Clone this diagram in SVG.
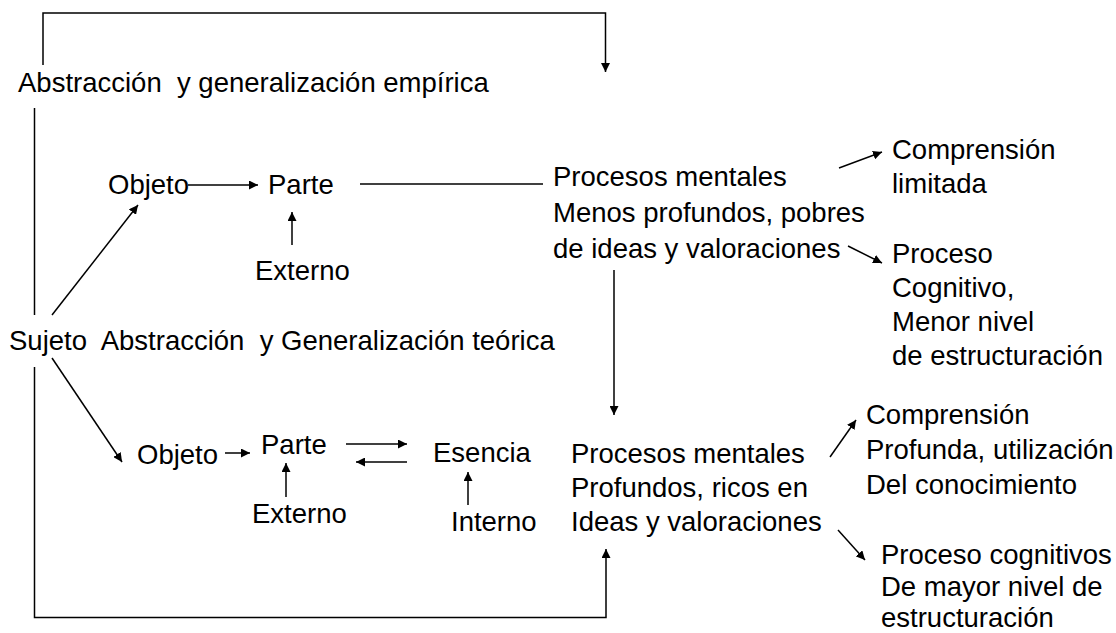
<svg xmlns="http://www.w3.org/2000/svg" width="1116" height="633" viewBox="0 0 1116 633">
<defs>
<marker id="ah" viewBox="0 0 10 10" refX="10" refY="5" markerWidth="9" markerHeight="9" orient="auto" markerUnits="userSpaceOnUse"><path d="M0,0 L10,5 L0,10 z" fill="#000"/></marker>
</defs>
<style>
text{font-family:"Liberation Sans",Arial,sans-serif;font-size:27.5px;fill:#000;white-space:pre}
.c{stroke:#000;stroke-width:1.5;fill:none}
.a{marker-end:url(#ah)}
</style>
<rect width="1116" height="633" fill="#fff"/>
<g id="connectors">
<path class="c a" d="M43,65 V13 H605.5 V72"/>
<path class="c" d="M34.5,108 V315"/>
<path class="c a" d="M34.5,367 V617.5 H606 V549"/>
<path class="c a" d="M188,185 H258"/>
<path class="c a" d="M292,245 V212"/>
<path class="c" d="M360,184 H543"/>
<path class="c a" d="M52,315 L138,205"/>
<path class="c a" d="M52,358 L122,462"/>
<path class="c a" d="M225,453 H250"/>
<path class="c a" d="M286,497 V463"/>
<path class="c a" d="M346,444 H407"/>
<path class="c a" d="M407,462 H356"/>
<path class="c a" d="M468,505 V472"/>
<path class="c a" d="M614,270 V415"/>
<path class="c a" d="M839,168 L882,152"/>
<path class="c a" d="M848,246 L882,263"/>
<path class="c a" d="M830,457 L856,420"/>
<path class="c a" d="M838,530 L865,560"/>
</g>
<g id="n-empirica"><text x="18" y="92">Abstracción  y generalización empírica</text></g>
<g id="n-objeto1"><text x="108" y="194">Objeto</text></g>
<g id="n-parte1"><text x="268" y="194">Parte</text></g>
<g id="n-externo1"><text x="255" y="280">Externo</text></g>
<g id="n-sujeto"><text x="9" y="350">Sujeto  Abstracción  y Generalización teórica</text></g>
<g id="n-objeto2"><text x="137" y="464">Objeto</text></g>
<g id="n-parte2"><text x="261" y="454">Parte</text></g>
<g id="n-externo2"><text x="252" y="523">Externo</text></g>
<g id="n-esencia"><text x="433" y="462">Esencia</text></g>
<g id="n-interno"><text x="451" y="531">Interno</text></g>
<g id="n-procesos1"><text x="553" y="186">Procesos mentales</text><text x="553" y="222">Menos profundos, pobres</text><text x="553" y="258">de ideas y valoraciones</text></g>
<g id="n-comp1"><text x="892" y="159">Comprensión</text><text x="892" y="193">limitada</text></g>
<g id="n-proc-cog1"><text x="892" y="263">Proceso</text><text x="892" y="297">Cognitivo,</text><text x="892" y="331">Menor nivel</text><text x="892" y="365">de estructuración</text></g>
<g id="n-procesos2"><text x="571" y="463">Procesos mentales</text><text x="571" y="497">Profundos, ricos en</text><text x="571" y="531">Ideas y valoraciones</text></g>
<g id="n-comp2"><text x="866" y="424">Comprensión</text><text x="866" y="459">Profunda, utilización</text><text x="866" y="494">Del conocimiento</text></g>
<g id="n-proc-cog2"><text x="881" y="564">Proceso cognitivos</text><text x="881" y="596">De mayor nivel de</text><text x="881" y="627">estructuración</text></g>
</svg>
